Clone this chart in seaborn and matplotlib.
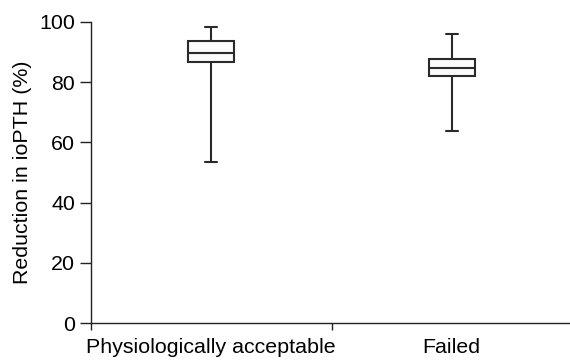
import numpy as np
import pandas as pd
import matplotlib
matplotlib.use("Agg")
import matplotlib.pyplot as plt
import seaborn as sns

# Data
categories = ["Physiologically acceptable", "Failed"]
mins = [53.5, 63.6]
q1s = [86.8, 82.0]
medians = [89.6, 84.7]
q3s = [93.7, 87.6]
maxs = [98.1, 96.0]
y_ticks = [0, 20, 40, 60, 80, 100]

rows = []
for c, a, b, m, d, e in zip(categories, mins, q1s, medians, q3s, maxs):
    for v in (a, b, m, d, e):
        rows.append({"group": c, "value": v})
df = pd.DataFrame(rows)

sns.set_style("ticks")
plt.rcParams["font.family"] = ["Liberation Sans", "DejaVu Sans"]

fig = plt.figure(figsize=(5.7, 3.61), dpi=100)
ax = fig.add_axes([91 / 570, 37.7 / 361, (572 - 91) / 570, 301.6 / 361])

edge = "#2a2a2a"
lw = 1.5
sns.boxplot(
    data=df, x="group", y="value", order=categories, ax=ax,
    whis=(0, 100), width=0.19, color="#fbfbfb", linecolor=edge, linewidth=lw,
    showfliers=False, capwidths=0.05,
)

fs = 15.4
ax.set_xlim(-0.5, 1.5)
ax.set_ylim(0, 100)
ax.set_yticks(y_ticks)
ax.set_xticks([-0.5, 0.5, 1.5])
ax.set_xticklabels([])
ax.set_xticks([0, 1], minor=True)
ax.set_xticklabels(categories, minor=True)
ax.tick_params(axis="x", which="major", length=5, width=1, color="#222222", direction="out")
ax.tick_params(axis="x", which="minor", length=0, pad=10.5, labelsize=fs, labelcolor="black")
ax.tick_params(axis="y", length=8, width=1, color="#222222", pad=3.5, labelsize=fs, labelcolor="black")

ax.set_xlabel("")
ax.set_ylabel("Reduction in ioPTH (%)", fontsize=fs, color="black")
ax.yaxis.set_label_coords(-0.123, 0.5)

for s in ("top", "right"):
    ax.spines[s].set_visible(False)
for s in ("left", "bottom"):
    ax.spines[s].set_color("#222222")
    ax.spines[s].set_linewidth(1.0)

fig.savefig("out.png", dpi=100)
